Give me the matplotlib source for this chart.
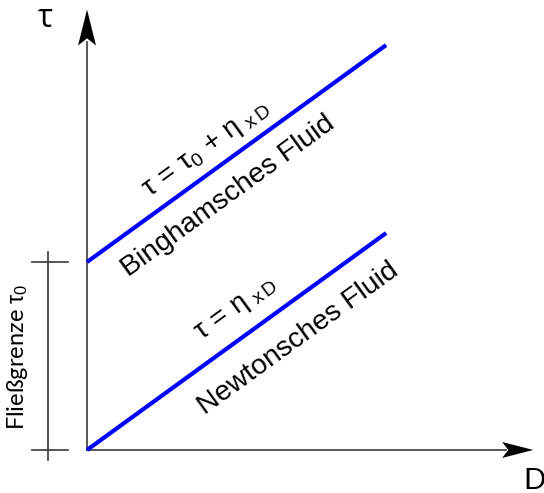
import numpy as np
import matplotlib
matplotlib.use("Agg")
from matplotlib import pyplot as plt

plt.rcParams['mathtext.fontset'] = 'custom'
plt.rcParams['mathtext.rm'] = 'Liberation Sans'
plt.rcParams['mathtext.it'] = 'Liberation Sans'
plt.rcParams['mathtext.bf'] = 'Liberation Sans:bold'

# --- Données (unités arbitraires) ---
D = [0.0, 1.0]
tau_newton = [0.0, 1.154]
tau_bingham = [1.0, 2.154]
tau0 = 1.0

label_bingham = "Binghamsches Fluid"
label_newton = "Newtonsches Fluid"
eq_bingham = r"$\tau\,=\,\tau_0\,+\,\eta\;_{\mathrm{x\,D}}$"
eq_newton = r"$\tau\,=\,\eta\;_{\mathrm{x\,D}}$"
label_fliess = r"Fließgrenze $\tau_0$"

# --- Figure ---
fig = plt.figure(figsize=(5.44, 4.93), dpi=100)
ax = fig.add_axes([0, 0, 1, 1])
ax.set_xlim(-0.291, 1.528)
ax.set_ylim(-0.229, 2.394)
ax.axis('off')

axe_col = '#3a3a3a'
x_tip = 1.492
y_tip = 2.343

# axes avec flèches
ax.plot([0, x_tip - 0.09], [0, 0], color=axe_col, lw=1.2)
ax.plot([0, 0], [0, y_tip - 0.17], color=axe_col, lw=1.2)
ax.arrow(0, y_tip - 0.191, 0, 0.191, width=0, head_width=0.060, head_length=0.191,
         length_includes_head=True, overhang=0.2, fc='black', ec='black', lw=0)
ax.arrow(x_tip - 0.104, 0, 0.104, 0, width=0, head_width=0.085, head_length=0.104,
         length_includes_head=True, overhang=0.2, fc='black', ec='black', lw=0)

# crochet Fließgrenze
ax.plot([-0.130, -0.130], [-0.053, tau0 + 0.053], color=axe_col, lw=1.2)
ax.plot([-0.184, -0.064], [0, 0], color=axe_col, lw=1.2)
ax.plot([-0.184, -0.064], [tau0, tau0], color=axe_col, lw=1.2)

# droites
ax.plot(D, tau_bingham, color='#0000ff', lw=3, solid_capstyle='butt')
ax.plot(D, tau_newton, color='#0000ff', lw=3, solid_capstyle='butt')

# angle à l'écran
p0 = ax.transData.transform((D[0], tau_newton[0]))
p1 = ax.transData.transform((D[1], tau_newton[1]))
angle = np.degrees(np.arctan2(p1[1] - p0[1], p1[0] - p0[0]))

txt = dict(ha='center', va='center', rotation=angle, rotation_mode='anchor',
           family='Liberation Sans', color='black')
ax.text(0.401, 1.600, eq_bingham, fontsize=20, **txt)
ax.text(0.472, 1.351, label_bingham, fontsize=20.5, **txt)
ax.text(0.498, 0.748, eq_newton, fontsize=20, **txt)
ax.text(0.705, 0.590, label_newton, fontsize=20.5, **txt)

ax.text(-0.231, 0.495, label_fliess, rotation=90, ha='center', va='center',
        fontsize=17, family=['Lato', 'DejaVu Sans'])
ax.text(-0.140, 2.293, "τ", ha='center', va='center', fontsize=23,
        family=['Open Sans', 'DejaVu Sans'])
ax.text(1.495, -0.207, "D", ha='center', va='baseline', fontsize=21,
        family=['Lato', 'DejaVu Sans'])

plt.savefig("out.png", dpi=100)
plt.close()
